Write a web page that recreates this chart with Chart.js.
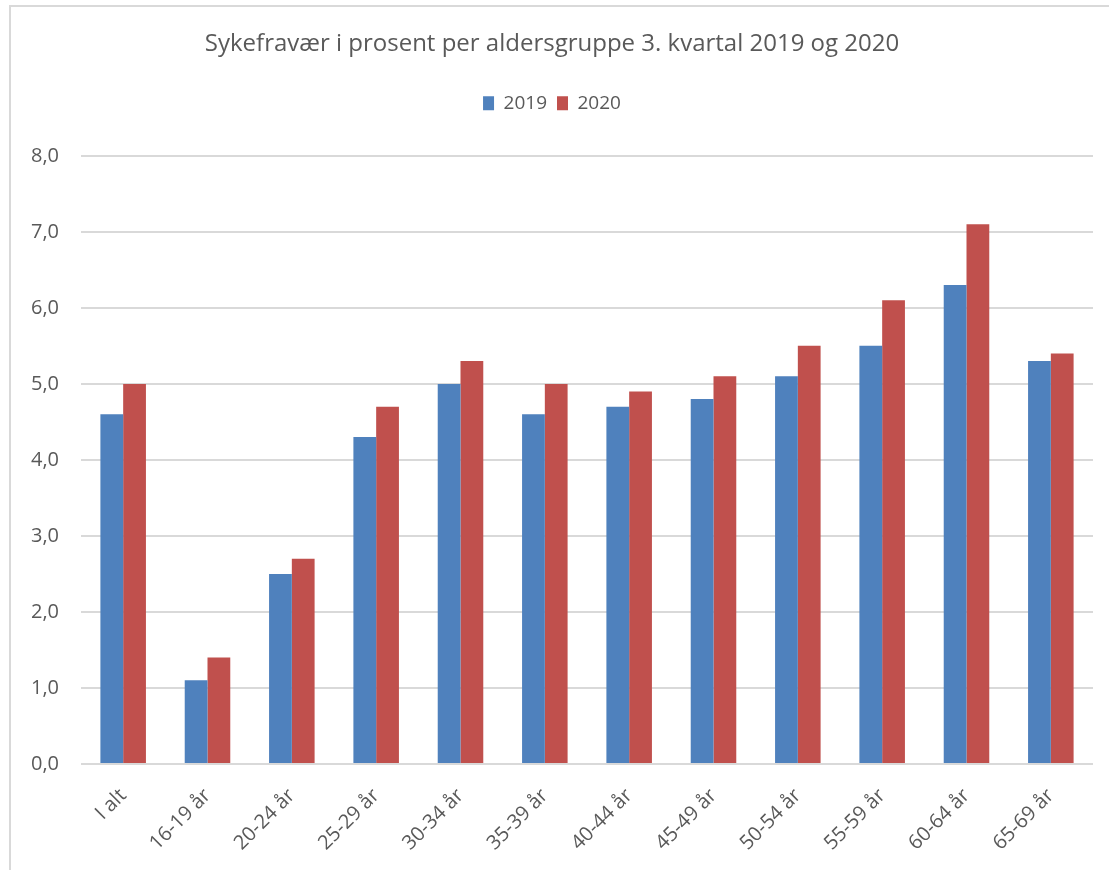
<!DOCTYPE html>
<html>
<head>
<meta charset="utf-8">
<script src="https://cdn.jsdelivr.net/npm/chart.js@4/dist/chart.umd.min.js"></script>
<style>
  body { margin: 0; background: #fff; }
  #frame {
    position: absolute; left: 9px; top: 5px; width: 1100px; height: 865px;
    border-left: 2px solid #d9d9d9; border-top: 2px solid #d9d9d9;
    box-sizing: border-box;
  }
  #chartBox { width: 1098px; height: 863px; }
</style>
</head>
<body>
<div id="frame"><div id="chartBox"><canvas id="sykChart"></canvas></div></div>
<script>
// data
const aldersgrupper = ["I alt", "16-19 år", "20-24 år", "25-29 år", "30-34 år", "35-39 år",
  "40-44 år", "45-49 år", "50-54 år", "55-59 år", "60-64 år", "65-69 år"];
const verdier2019 = [4.6, 1.1, 2.5, 4.3, 5.0, 4.6, 4.7, 4.8, 5.1, 5.5, 6.3, 5.3];
const verdier2020 = [5.0, 1.4, 2.7, 4.7, 5.3, 5.0, 4.9, 5.1, 5.5, 6.1, 7.1, 5.4];
const tittel = "Sykefravær i prosent per aldersgruppe 3. kvartal 2019 og 2020";

const fontFamily = "'Open Sans', 'Noto Sans', sans-serif";
const tekstFarge = "#595959";

// ekstra luft under legenden, som i originalen
const legendeLuft = {
  id: "legendeLuft",
  beforeInit(chart) {
    const fit = chart.legend.fit;
    chart.legend.fit = function () {
      fit.call(this);
      this.height += 33;
    };
  }
};

const ctx = document.getElementById("sykChart").getContext("2d");
new Chart(ctx, {
  type: "bar",
  data: {
    labels: aldersgrupper,
    datasets: [
      { label: "2019", data: verdier2019, backgroundColor: "#4f81bd", barPercentage: 1.0, categoryPercentage: 0.54 },
      { label: "2020", data: verdier2020, backgroundColor: "#c0504d", barPercentage: 1.0, categoryPercentage: 0.54 }
    ]
  },
  plugins: [legendeLuft],
  options: {
    responsive: true,
    maintainAspectRatio: false,
    animation: false,
    layout: { padding: { left: 0, right: 16, top: 0, bottom: 0 } },
    plugins: {
      title: {
        display: true,
        text: tittel,
        color: tekstFarge,
        font: { family: fontFamily, size: 24, weight: "normal" },
        padding: { top: 23, bottom: 25 }
      },
      legend: {
        position: "top",
        labels: {
          color: tekstFarge,
          font: { family: fontFamily, size: 19 },
          boxWidth: 11,
          boxHeight: 14,
          padding: 10
        }
      },
      tooltip: { enabled: false }
    },
    scales: {
      x: {
        grid: { display: false },
        border: { display: false },
        ticks: {
          color: tekstFarge,
          font: { family: fontFamily, size: 20 },
          maxRotation: 45,
          minRotation: 45,
          padding: 12
        },
        afterFit: s => { s.height = 106; }
      },
      y: {
        min: 0,
        max: 8,
        border: { display: false },
        grid: { color: "#d9d9d9", lineWidth: 2, drawTicks: false },
        ticks: {
          stepSize: 1,
          color: tekstFarge,
          font: { family: fontFamily, size: 20 },
          padding: 22,
          callback: v => v.toFixed(1).replace(".", ",")
        },
        afterFit: s => { s.width = 70; }
      }
    }
  }
});
</script>
</body>
</html>
